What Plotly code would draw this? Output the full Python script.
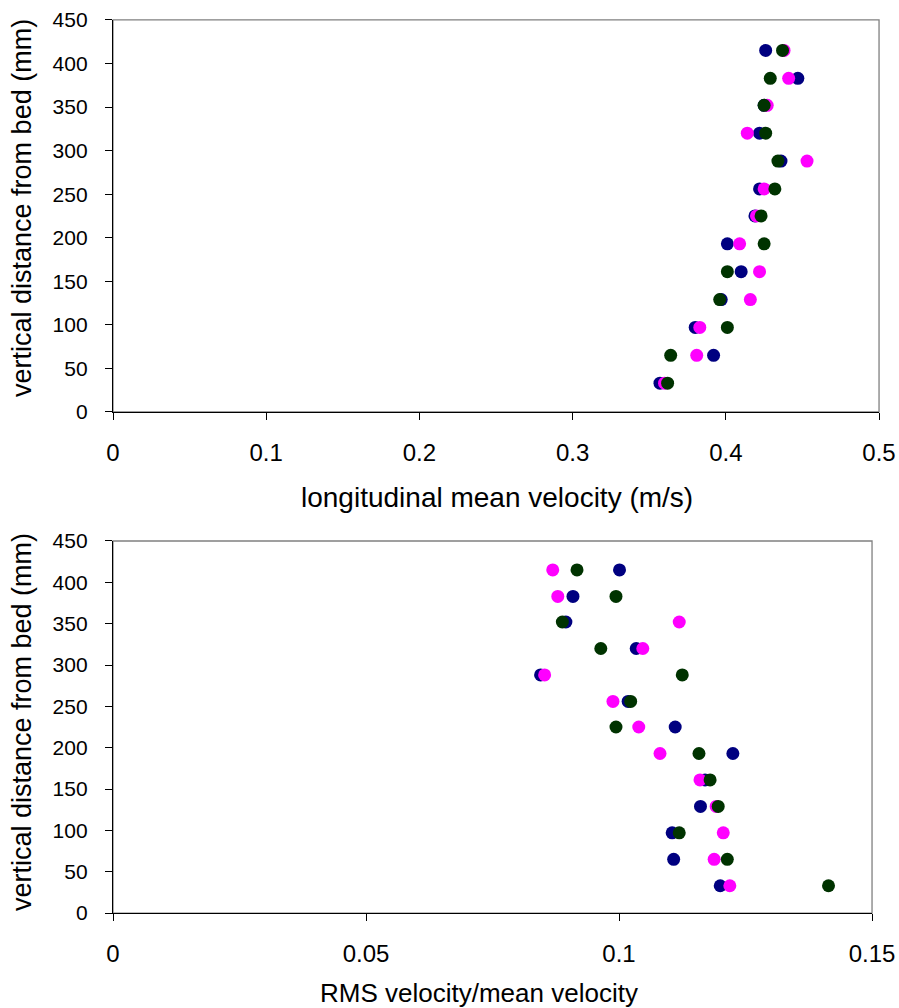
import plotly.graph_objects as go

heights = [33, 65, 97, 129, 161, 193, 225, 256, 288, 320, 352, 383, 415]

mean_navy    = [0.357, 0.392, 0.380, 0.397, 0.410, 0.401, 0.419, 0.422, 0.436, 0.422, 0.425, 0.447, 0.426]
mean_magenta = [0.360, 0.381, 0.383, 0.416, 0.422, 0.409, 0.420, 0.425, 0.453, 0.414, 0.427, 0.441, 0.438]
mean_green   = [0.362, 0.364, 0.401, 0.396, 0.401, 0.425, 0.423, 0.432, 0.434, 0.426, 0.425, 0.429, 0.437]

rms_navy    = [0.1200, 0.1108, 0.1105, 0.1161, 0.1170, 0.1225, 0.1111, 0.1018, 0.0845, 0.1034, 0.0895, 0.0909, 0.1001]
rms_magenta = [0.1219, 0.1188, 0.1206, 0.1192, 0.1160, 0.1081, 0.1039, 0.0988, 0.0853, 0.1047, 0.1119, 0.0879, 0.0869]
rms_green   = [0.1414, 0.1214, 0.1119, 0.1196, 0.1180, 0.1158, 0.0994, 0.1023, 0.1125, 0.0964, 0.0888, 0.0994, 0.0917]

colors = {"navy": "#000080", "magenta": "#FF00FF", "green": "#003300"}

x_top_ticks = [0, 0.1, 0.2, 0.3, 0.4, 0.5]
x_bot_ticks = [0, 0.05, 0.1, 0.15]
x_bot_text = ["0", "0.05", "0.1", "0.15"]
y_ticks = [0, 50, 100, 150, 200, 250, 300, 350, 400, 450]

title_top = "longitudinal mean velocity (m/s)"
title_bot = "RMS velocity/mean velocity"
title_y = "vertical distance from bed (mm)"

FONT = "Liberation Sans, Arial, sans-serif"

fig = go.Figure()
for xs, name in [(mean_navy, "navy"), (mean_magenta, "magenta"), (mean_green, "green")]:
    fig.add_trace(go.Scatter(x=xs, y=heights, mode="markers", xaxis="x", yaxis="y",
                             marker=dict(size=13, color=colors[name]), showlegend=False))
for xs, name in [(rms_navy, "navy"), (rms_magenta, "magenta"), (rms_green, "green")]:
    fig.add_trace(go.Scatter(x=xs, y=heights, mode="markers", xaxis="x2", yaxis="y2",
                             marker=dict(size=13, color=colors[name]), showlegend=False))

axis_common = dict(showgrid=False, zeroline=False, showline=True, linecolor="#000000", linewidth=1.3,
                   ticks="outside", ticklen=7, tickcolor="#000000", tickwidth=1, automargin=False)
xfont = dict(family=FONT, size=24, color="#000000")
yfont = dict(family=FONT, size=21, color="#000000")

fig.update_layout(
    template="none",
    width=899, height=1008,
    margin=dict(l=0, r=0, t=0, b=0, autoexpand=False),
    paper_bgcolor="white", plot_bgcolor="white",
    font=dict(family=FONT, color="#000000"),
    xaxis=dict(domain=[0.1257, 0.9778], range=[0, 0.5], tickvals=x_top_ticks,
               ticktext=[str(v) for v in x_top_ticks], anchor="y",
               ticklabelstandoff=12, tickfont=xfont, **axis_common),
    yaxis=dict(domain=[0.5913, 0.9802], range=[0, 450], tickvals=y_ticks, anchor="x",
               ticklabelstandoff=13, tickfont=yfont, **axis_common),
    xaxis2=dict(domain=[0.1257, 0.970], range=[0, 0.15], tickvals=x_bot_ticks,
                ticktext=x_bot_text, anchor="y2",
                ticklabelstandoff=12, tickfont=xfont, **axis_common),
    yaxis2=dict(domain=[0.0942, 0.4633], range=[0, 450], tickvals=y_ticks, anchor="x2",
                ticklabelstandoff=13, tickfont=yfont, **axis_common),
    shapes=[
        dict(type="rect", xref="x domain", yref="y domain", x0=0, x1=1, y0=0, y1=1,
             line=dict(color="#808080", width=1.3), layer="below"),
        dict(type="rect", xref="x2 domain", yref="y2 domain", x0=0, x1=1, y0=0, y1=1,
             line=dict(color="#808080", width=1.3), layer="below"),
    ],
    annotations=[
        dict(text=title_top, xref="paper", yref="paper", x=0.5523, y=0.506,
             xanchor="center", yanchor="middle", showarrow=False, font=dict(family=FONT, size=28)),
        dict(text=title_bot, xref="paper", yref="paper", x=0.5328, y=0.0149,
             xanchor="center", yanchor="middle", showarrow=False, font=dict(family=FONT, size=26)),
        dict(text=title_y, xref="paper", yref="paper", x=0.0245, y=0.7937, textangle=-90,
             xanchor="center", yanchor="middle", showarrow=False, font=dict(family=FONT, size=27)),
        dict(text=title_y, xref="paper", yref="paper", x=0.0245, y=0.2837, textangle=-90,
             xanchor="center", yanchor="middle", showarrow=False, font=dict(family=FONT, size=27)),
    ],
)

fig.write_html("out.html", config={"displayModeBar": False},
               post_script="document.body.style.margin='0';document.body.style.overflow='hidden';")
